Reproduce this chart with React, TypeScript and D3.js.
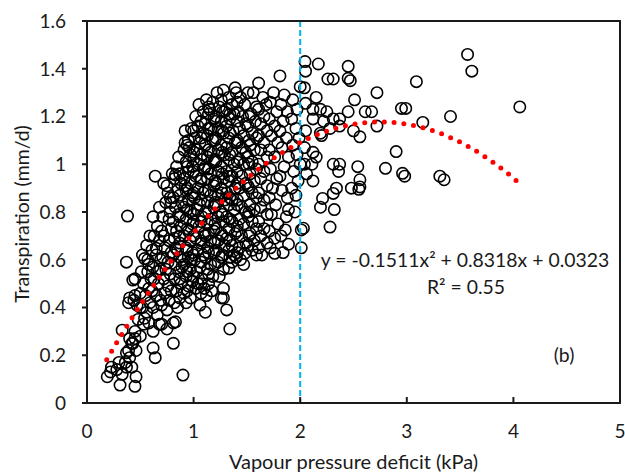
import React from "react";
import * as d3 from "d3";

const xTicks = [0, 1, 2, 3, 4, 5];
const xTickLabels = ["0", "1", "2", "3", "4", "5"];
const yTicks = [0, 0.2, 0.4, 0.6, 0.8, 1, 1.2, 1.4, 1.6];
const yTickLabels = ["0", "0.2", "0.4", "0.6", "0.8", "1", "1.2", "1.4", "1.6"];

const xTitle = "Vapour pressure deficit (kPa)";
const yTitle = "Transpiration (mm/d)";
const equationText = "y = -0.1511x\u00B2 + 0.8318x + 0.0323";
const r2Text = "R\u00B2 = 0.55";
const panelLabel = "(b)";

const vpdThreshold = 2;
// polynomial trendline coefficients (as printed on the chart)
const trendCoefs = [0.0323, 0.8318, -0.1511];
const trendRange = [0.185, 4.055];

// [VPD (kPa), transpiration (mm/d)]
const tailPoints: [number, number][] = [
  [0.19, 0.11], [0.23, 0.15], [0.22, 0.13], [0.28, 0.14], [0.31, 0.075], [0.30, 0.17], [0.36, 0.17],
  [0.33, 0.12], [0.45, 0.07], [0.46, 0.11], [0.42, 0.15], [0.37, 0.15], [0.37, 0.21], [0.40, 0.19],
  [0.33, 0.305], [0.43, 0.25], [0.45, 0.27], [0.40, 0.27], [0.39, 0.22], [0.42, 0.25], [0.37, 0.59],
  [0.45, 0.52], [0.43, 0.515], [0.45, 0.45], [0.40, 0.44], [0.39, 0.42], [0.44, 0.43], [0.50, 0.46],
  [0.38, 0.783], [0.47, 0.41], [0.50, 0.40], [0.48, 0.35], [0.45, 0.30], [0.50, 0.28], [0.46, 0.22],
];

const band05: [number, number][] = [
  [0.52, 0.62], [0.54, 0.605], [0.58, 0.58], [0.57, 0.55], [0.53, 0.50], [0.58, 0.48], [0.55, 0.45],
  [0.52, 0.40], [0.56, 0.38], [0.59, 0.42], [0.54, 0.355], [0.58, 0.335], [0.60, 0.52], [0.56, 0.66],
  [0.59, 0.70], [0.57, 0.60], [0.51, 0.55], [0.53, 0.33],
];

const band06: [number, number][] = [
  [0.64, 0.95], [0.62, 0.78], [0.66, 0.74], [0.63, 0.70], [0.68, 0.68], [0.65, 0.648], [0.61, 0.64],
  [0.65, 0.62], [0.69, 0.60], [0.62, 0.57], [0.66, 0.55], [0.63, 0.52], [0.67, 0.50], [0.61, 0.47],
  [0.65, 0.45], [0.69, 0.43], [0.62, 0.40], [0.66, 0.37], [0.62, 0.30], [0.68, 0.33], [0.62, 0.23],
  [0.64, 0.19], [0.68, 0.82], [0.70, 0.72], [0.69, 0.56],
];

const band07: [number, number][] = [
  [0.72, 0.92], [0.75, 0.91], [0.76, 0.88], [0.74, 0.84], [0.79, 0.84], [0.78, 0.80], [0.71, 0.78],
  [0.77, 0.77], [0.79, 0.73], [0.72, 0.70], [0.77, 0.68], [0.73, 0.65], [0.79, 0.63], [0.71, 0.61],
  [0.76, 0.59], [0.74, 0.56], [0.78, 0.54], [0.72, 0.52], [0.76, 0.49], [0.79, 0.47], [0.73, 0.46],
  [0.77, 0.43], [0.70, 0.41], [0.75, 0.39], [0.70, 0.33], [0.75, 0.31], [0.80, 0.96], [0.78, 0.86],
];

const band08: [number, number][] = [
  [0.83, 0.955], [0.86, 1.03], [0.84, 0.99], [0.82, 0.94], [0.88, 0.92], [0.85, 0.89], [0.81, 0.86],
  [0.89, 0.84], [0.83, 0.82], [0.86, 0.79], [0.81, 0.76], [0.88, 0.74], [0.84, 0.72], [0.82, 0.69],
  [0.87, 0.67], [0.85, 0.64], [0.81, 0.62], [0.89, 0.60], [0.83, 0.58], [0.86, 0.55], [0.82, 0.52],
  [0.88, 0.50], [0.84, 0.47], [0.87, 0.44], [0.82, 0.42], [0.81, 0.335], [0.81, 0.25], [0.90, 0.117],
  [0.85, 0.40], [0.89, 0.57], [0.83, 0.65], [0.83, 0.34],
];

const band09: [number, number][] = [
  [0.92, 1.14], [0.98, 1.15], [0.92, 1.09], [0.95, 1.10], [0.91, 1.06], [0.97, 1.04], [0.93, 1.01],
  [0.99, 0.99], [0.95, 0.97], [0.91, 0.94], [0.97, 0.92], [0.93, 0.89], [0.99, 0.87], [0.95, 0.85],
  [0.91, 0.82], [0.97, 0.80], [0.93, 0.77], [0.99, 0.75], [0.95, 0.72], [0.91, 0.70], [0.97, 0.68],
  [0.93, 0.65], [0.99, 0.63], [0.95, 0.61], [0.91, 0.58], [0.97, 0.56], [0.93, 0.53], [0.99, 0.51],
  [0.95, 0.49], [0.91, 0.46], [0.97, 0.44], [0.93, 0.42], [0.96, 1.07], [0.92, 0.91], [0.98, 0.60],
];

const band10: [number, number][] = [
  [1.02, 1.20], [1.07, 1.18], [1.04, 1.16], [1.09, 1.13], [1.01, 1.11], [1.06, 1.09], [1.03, 1.06],
  [1.08, 1.04], [1.00, 1.02], [1.05, 1.00], [1.10, 0.98], [1.02, 0.95], [1.07, 0.93], [1.04, 0.90],
  [1.09, 0.88], [1.01, 0.86], [1.06, 0.83], [1.03, 0.81], [1.08, 0.78], [1.00, 0.76], [1.05, 0.74],
  [1.10, 0.71], [1.02, 0.69], [1.07, 0.67], [1.04, 0.64], [1.09, 0.62], [1.01, 0.60], [1.06, 0.57],
  [1.03, 0.55], [1.08, 0.52], [1.04, 0.50], [1.02, 0.48], [1.07, 0.46], [1.06, 0.41], [1.11, 0.38],
  [1.10, 0.48], [1.09, 1.22], [1.05, 1.25],
];

const band11: [number, number][] = [
  [1.15, 1.23], [1.12, 1.27], [1.18, 1.26], [1.14, 1.21], [1.19, 1.19], [1.11, 1.17], [1.16, 1.15],
  [1.13, 1.12], [1.18, 1.10], [1.11, 1.08], [1.16, 1.05], [1.13, 1.03], [1.19, 1.01], [1.11, 0.99],
  [1.16, 0.96], [1.13, 0.94], [1.19, 0.91], [1.11, 0.89], [1.16, 0.87], [1.13, 0.84], [1.19, 0.82],
  [1.11, 0.80], [1.16, 0.77], [1.13, 0.75], [1.19, 0.72], [1.11, 0.70], [1.16, 0.68], [1.13, 0.65],
  [1.19, 0.63], [1.11, 0.61], [1.16, 0.58], [1.13, 0.56], [1.18, 0.53], [1.14, 0.50], [1.17, 0.47],
  [1.12, 0.45],
];

const band12: [number, number][] = [
  [1.26, 1.27], [1.22, 1.30], [1.28, 1.31], [1.24, 1.24], [1.29, 1.22], [1.21, 1.20], [1.26, 1.18],
  [1.23, 1.15], [1.28, 1.13], [1.21, 1.11], [1.26, 1.08], [1.23, 1.06], [1.29, 1.04], [1.21, 1.01],
  [1.26, 0.99], [1.23, 0.97], [1.28, 0.94], [1.21, 0.92], [1.26, 0.90], [1.23, 0.87], [1.29, 0.85],
  [1.21, 0.83], [1.26, 0.80], [1.23, 0.78], [1.28, 0.76], [1.21, 0.73], [1.26, 0.71], [1.23, 0.68],
  [1.29, 0.66], [1.21, 0.64], [1.26, 0.61], [1.23, 0.59], [1.28, 0.56], [1.24, 0.53], [1.26, 0.44],
  [1.28, 0.48],
];

const band13: [number, number][] = [
  [1.39, 1.32], [1.40, 1.30], [1.33, 1.28], [1.36, 1.25], [1.31, 1.23], [1.38, 1.21], [1.34, 1.19],
  [1.31, 1.16], [1.37, 1.14], [1.33, 1.11], [1.39, 1.09], [1.31, 1.07], [1.36, 1.05], [1.33, 1.02],
  [1.38, 1.00], [1.31, 0.97], [1.36, 0.95], [1.33, 0.93], [1.39, 0.90], [1.31, 0.88], [1.36, 0.85],
  [1.33, 0.83], [1.38, 0.81], [1.31, 0.78], [1.36, 0.76], [1.33, 0.73], [1.39, 0.71], [1.31, 0.69],
  [1.36, 0.66], [1.33, 0.64], [1.38, 0.62], [1.33, 0.565], [1.36, 0.59], [1.31, 0.39], [1.34, 0.31],
  [1.28, 0.44], [1.40, 0.61],
];

const band14: [number, number][] = [
  [1.44, 1.28], [1.48, 1.25], [1.42, 1.22], [1.46, 1.20], [1.49, 1.17], [1.43, 1.15], [1.47, 1.12],
  [1.41, 1.10], [1.45, 1.07], [1.49, 1.05], [1.43, 1.02], [1.47, 1.00], [1.41, 0.97], [1.45, 0.95],
  [1.49, 0.92], [1.43, 0.90], [1.47, 0.87], [1.41, 0.85], [1.45, 0.82], [1.49, 0.80], [1.43, 0.77],
  [1.47, 0.75], [1.41, 0.72], [1.45, 0.70], [1.49, 0.67], [1.43, 0.65], [1.47, 0.58], [1.48, 0.627],
  [1.44, 0.60],
];

const band15: [number, number][] = [
  [1.51, 1.30], [1.56, 1.30], [1.59, 1.24], [1.54, 1.21], [1.58, 1.18], [1.51, 1.16], [1.55, 1.13],
  [1.59, 1.11], [1.53, 1.08], [1.57, 1.06], [1.51, 1.03], [1.55, 1.01], [1.59, 0.98], [1.53, 0.96],
  [1.57, 0.93], [1.51, 0.91], [1.55, 0.88], [1.59, 0.86], [1.53, 0.83], [1.57, 0.81], [1.51, 0.78],
  [1.55, 0.76], [1.59, 0.73], [1.53, 0.71], [1.57, 0.68], [1.51, 0.66], [1.55, 0.64], [1.59, 0.62],
];

const band16: [number, number][] = [
  [1.61, 1.34], [1.65, 1.28], [1.68, 1.25], [1.61, 1.23], [1.66, 1.20], [1.63, 1.17], [1.69, 1.14],
  [1.61, 1.12], [1.66, 1.09], [1.63, 1.06], [1.69, 1.03], [1.61, 1.00], [1.66, 0.97], [1.63, 0.94],
  [1.69, 0.91], [1.61, 0.88], [1.66, 0.85], [1.63, 0.82], [1.69, 0.79], [1.61, 0.76], [1.66, 0.73],
  [1.63, 0.70], [1.69, 0.67], [1.64, 0.62], [1.61, 0.65],
];

const band17: [number, number][] = [
  [1.75, 1.30], [1.72, 1.26], [1.78, 1.22], [1.71, 1.19], [1.76, 1.16], [1.73, 1.12], [1.79, 1.09],
  [1.71, 1.06], [1.76, 1.03], [1.72, 0.98], [1.78, 0.94], [1.74, 0.90], [1.71, 0.86], [1.77, 0.83],
  [1.73, 0.79], [1.79, 0.75], [1.71, 0.72], [1.76, 0.69], [1.76, 0.627], [1.72, 0.65],
];

const band18: [number, number][] = [
  [1.81, 1.37], [1.85, 1.29], [1.82, 1.25], [1.88, 1.22], [1.84, 1.18], [1.81, 1.14], [1.87, 1.11],
  [1.83, 1.07], [1.89, 1.03], [1.85, 0.99], [1.81, 0.95], [1.83, 0.89], [1.89, 0.81], [1.87, 0.78],
  [1.86, 0.725], [1.84, 0.63], [1.89, 0.665], [1.82, 0.70], [1.88, 0.86],
];

const band19: [number, number][] = [
  [2.00, 1.325], [1.93, 1.27], [1.97, 1.23], [1.92, 1.19], [1.96, 1.15], [1.99, 1.11], [1.93, 1.08],
  [1.97, 1.04], [2.00, 1.00], [1.94, 0.97], [1.98, 0.93], [1.92, 0.90], [1.96, 0.87], [2.01, 0.65],
  [2.01, 0.725], [2.03, 0.732], [1.95, 0.80],
];

// extra overlapping points in the dense core of the cloud
const corePoints: [number, number][] = [
  [0.87, 0.52], [0.87, 0.61], [0.87, 0.70], [0.87, 0.78], [0.87, 0.87], [0.87, 0.96],
  [0.94, 0.47], [0.94, 0.55], [0.94, 0.64], [0.94, 0.73], [0.94, 0.81], [0.94, 0.90], [0.94, 0.99], [0.94, 1.08],
  [1.00, 0.53], [1.00, 0.62], [1.00, 0.70], [1.00, 0.79], [1.00, 0.88], [1.00, 0.97], [1.00, 1.05], [1.00, 1.14],
  [1.07, 0.50], [1.07, 0.59], [1.07, 0.68], [1.07, 0.76], [1.07, 0.85], [1.07, 0.94], [1.07, 1.02], [1.07, 1.11],
  [1.14, 0.54], [1.14, 0.63], [1.14, 0.71], [1.14, 0.80], [1.14, 0.89], [1.14, 0.98], [1.14, 1.06], [1.14, 1.15], [1.14, 1.24],
  [1.20, 0.58], [1.20, 0.67], [1.20, 0.75], [1.20, 0.84], [1.20, 0.93], [1.20, 1.02], [1.20, 1.10], [1.20, 1.18],
  [1.27, 0.62], [1.27, 0.70], [1.27, 0.79], [1.27, 0.88], [1.27, 0.96], [1.27, 1.05], [1.27, 1.14], [1.27, 1.22],
  [1.34, 0.61], [1.34, 0.68], [1.34, 0.77], [1.34, 0.86], [1.34, 0.95], [1.34, 1.04], [1.34, 1.13], [1.34, 1.21],
  [1.41, 0.63], [1.41, 0.74], [1.41, 0.83], [1.41, 0.92], [1.41, 1.01], [1.41, 1.09], [1.41, 1.18], [1.41, 1.26],
  [1.52, 0.70], [1.52, 0.80], [1.52, 0.90], [1.52, 1.00], [1.52, 1.10], [1.52, 1.20],
];

const highVpdPoints: [number, number][] = [
  [2.045, 1.43], [2.17, 1.42], [2.05, 1.39], [2.45, 1.41], [2.26, 1.357], [2.31, 1.357], [2.45, 1.36],
  [2.47, 1.35], [2.72, 1.30], [3.09, 1.346], [3.57, 1.46], [3.61, 1.39], [4.06, 1.24], [3.41, 1.20],
  [3.15, 1.175], [2.95, 1.234], [2.99, 1.234], [2.72, 1.16], [2.67, 1.22], [2.61, 1.22], [2.51, 1.27],
  [2.45, 1.22], [2.37, 1.19], [2.56, 1.115], [2.50, 1.14], [2.90, 1.053], [2.80, 0.983], [2.96, 0.962],
  [2.98, 0.95], [3.31, 0.95], [3.35, 0.935], [2.54, 0.99], [2.56, 0.935], [2.56, 0.905], [2.48, 0.90],
  [2.55, 0.895], [2.37, 1.0], [2.31, 1.0], [2.36, 0.97], [2.31, 0.878], [2.34, 0.90], [2.21, 0.857],
  [2.19, 0.82], [2.32, 0.81], [2.28, 0.737], [2.12, 0.93], [2.06, 0.96], [2.15, 1.03], [2.12, 1.05],
  [2.11, 1.0], [2.04, 1.0], [2.04, 1.07], [2.15, 1.28], [2.04, 1.32], [2.05, 1.255], [2.12, 1.23],
  [2.19, 1.23], [2.25, 1.22], [2.12, 1.19], [2.22, 1.18], [2.31, 1.19], [2.05, 1.14], [2.19, 1.13],
  [2.20, 1.12], [2.28, 1.15], [2.37, 1.16],
];

const observations: [number, number][] = [
  ...tailPoints, ...band05, ...band06, ...band07, ...band08, ...band09, ...band10, ...band11,
  ...band12, ...band13, ...band14, ...band15, ...band16, ...band17, ...band18, ...band19,
  ...corePoints, ...highVpdPoints,
];

const W = 625;
const H = 473;
const M = { left: 87, right: 620, top: 21, bottom: 403 };
const FONT = "Lato, 'Open Sans', sans-serif";
const INK = "#1a1a1a";

export default function App() {
  const x = d3.scaleLinear().domain([0, 5]).range([M.left, M.right]);
  const y = d3.scaleLinear().domain([0, 1.6]).range([M.bottom, M.top]);

  const trendXs = d3.range(trendRange[0], trendRange[1] + 1e-9, (trendRange[1] - trendRange[0]) / 200);
  const trendLine = d3
    .line<number>()
    .x((v) => x(v))
    .y((v) => y(trendCoefs[0] + trendCoefs[1] * v + trendCoefs[2] * v * v))(trendXs) as string;

  return (
    <svg
      width={W}
      height={H}
      style={{ position: "absolute", left: 0, top: 0, background: "#fff" }}
      fontFamily={FONT}
    >
      <rect x={0} y={0} width={W} height={H} fill="#fff" />
      {/* points */}
      <g fill="none" stroke="#000" strokeWidth={1.6}>
        {observations.map(([vx, vy], i) => (
          <circle key={i} cx={x(vx)} cy={y(vy)} r={5.7} />
        ))}
      </g>
      {/* threshold line */}
      <line
        x1={x(vpdThreshold)}
        x2={x(vpdThreshold)}
        y1={y(1.6)}
        y2={y(0)}
        stroke="#00B0F0"
        strokeWidth={2}
        strokeDasharray="6 3"
      />
      {/* trendline */}
      <path
        d={trendLine}
        fill="none"
        stroke="#FF0000"
        strokeWidth={5}
        strokeLinecap="round"
        strokeDasharray="0 9.8"
      />
      {/* frame */}
      <rect
        x={M.left}
        y={M.top}
        width={M.right - M.left}
        height={M.bottom - M.top}
        fill="none"
        stroke={INK}
        strokeWidth={2}
      />
      {/* y ticks */}
      {yTicks.map((t, i) => (
        <g key={"y" + i}>
          <line x1={M.left - 5} x2={M.left} y1={y(t)} y2={y(t)} stroke={INK} strokeWidth={2} />
          <text x={66} y={y(t)} dy="0.36em" textAnchor="end" fontSize={19} fill={INK}>
            {yTickLabels[i]}
          </text>
        </g>
      ))}
      {/* x ticks */}
      {xTicks.map((t, i) => (
        <g key={"x" + i}>
          <line x1={x(t)} x2={x(t)} y1={M.bottom} y2={M.bottom - 6} stroke={INK} strokeWidth={2} />
          <text x={x(t)} y={438} textAnchor="middle" fontSize={19} fill={INK}>
            {xTickLabels[i]}
          </text>
        </g>
      ))}
      {/* titles */}
      <text x={(M.left + M.right) / 2} y={469} textAnchor="middle" fontSize={20} fill={INK}>
        {xTitle}
      </text>
      <text
        transform={`translate(29, 214) rotate(-90)`}
        textAnchor="middle"
        fontSize={19.5}
        fill={INK}
      >
        {yTitle}
      </text>
      {/* annotations */}
      <text x={465} y={267} textAnchor="middle" fontSize={19.4} fill={INK}>
        {equationText}
      </text>
      <text x={466} y={294} textAnchor="middle" fontSize={19.4} fill={INK}>
        {r2Text}
      </text>
      <text x={564} y={362} textAnchor="middle" fontSize={19.4} fill={INK}>
        {panelLabel}
      </text>
    </svg>
  );
}
